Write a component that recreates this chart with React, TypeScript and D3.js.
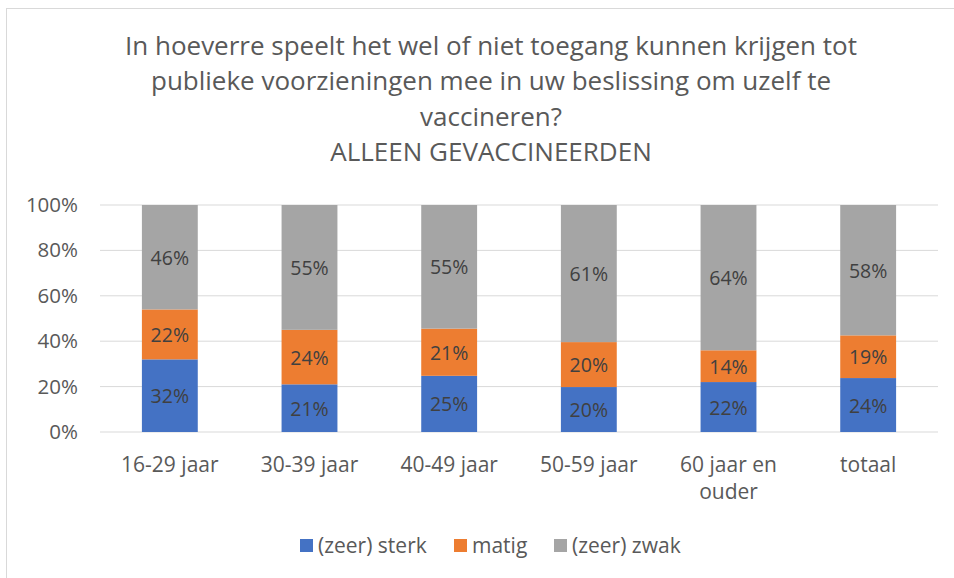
import React from "react";
import * as d3 from "d3";

const categories = ["16-29 jaar", "30-39 jaar", "40-49 jaar", "50-59 jaar", "60 jaar en ouder", "totaal"];
const sterk = [32, 21, 25, 20, 22, 24];
const matig = [22, 24, 21, 20, 14, 19];
const zwak = [46, 55, 55, 61, 64, 58];
const seriesNames = ["(zeer) sterk", "matig", "(zeer) zwak"];
const seriesColors = ["#4472C4", "#ED7D31", "#A5A5A5"];
const yTicks = [0, 0.2, 0.4, 0.6, 0.8, 1];
const titleLines = [
  "In hoeverre speelt het wel of niet toegang kunnen krijgen tot",
  "publieke voorzieningen mee in uw beslissing om uzelf te",
  "vaccineren?",
  "ALLEEN GEVACCINEERDEN",
];

const W = 954;
const H = 578;
const FONT = "'Open Sans', sans-serif";

export default function App() {
  const margin = { left: 100, right: 16, top: 205, bottom: 146 };
  const x = d3
    .scaleBand<string>()
    .domain(categories)
    .range([margin.left, W - margin.right])
    .paddingInner(0.6)
    .paddingOuter(0.3);
  const y = d3.scaleLinear().domain([0, 1]).range([H - margin.bottom, margin.top]);

  const rows = categories.map((c, i) => {
    const vals = [sterk[i], matig[i], zwak[i]];
    const total = d3.sum(vals);
    return { cat: c, vals, total };
  });
  const stack = d3
    .stack<{ cat: string; vals: number[]; total: number }, number>()
    .keys([0, 1, 2])
    .value((d, k) => d.vals[k] / d.total);
  const layers = stack(rows);

  const legendX = [300, 454, 554];

  return (
    <svg width={W} height={H} style={{ position: "absolute", left: 0, top: 0, background: "#fff" }} fontFamily={FONT}>
      <rect x={6.5} y={8.5} width={W} height={H} fill="#fff" stroke="#D9D9D9" strokeWidth={1} />
      {titleLines.map((t, i) => (
        <text key={i} x={491} y={55 + i * 35.3} textAnchor="middle" fontSize={26} fill="#595959">
          {t}
        </text>
      ))}
      {yTicks.map((t) => (
        <g key={t}>
          <line x1={margin.left} x2={W - margin.right} y1={y(t)} y2={y(t)} stroke="#D9D9D9" strokeWidth={1} />
          <text x={78} y={y(t) + 7} textAnchor="end" fontSize={20.5} fill="#595959">
            {d3.format(".0%")(t)}
          </text>
        </g>
      ))}
      {layers.map((layer, li) => (
        <g key={li}>
          {layer.map((d, i) => {
            const cat = categories[i];
            const x0 = x(cat)!;
            const y0 = y(d[1]);
            const h = y(d[0]) - y(d[1]);
            return (
              <g key={cat}>
                <rect x={x0} y={y0} width={x.bandwidth()} height={h} fill={seriesColors[li]} />
                <text
                  x={x0 + x.bandwidth() / 2}
                  y={y0 + h / 2 + 7.5}
                  textAnchor="middle"
                  fontSize={19.5}
                  fill="#404040"
                >
                  {rows[i].vals[li]}%
                </text>
              </g>
            );
          })}
        </g>
      ))}
      {categories.map((c) => {
        const cx = x(c)! + x.bandwidth() / 2;
        const lines = c === "60 jaar en ouder" ? ["60 jaar en", "ouder"] : [c];
        return (
          <text key={c} x={cx} textAnchor="middle" fontSize={21} fill="#595959">
            {lines.map((l, k) => (
              <tspan key={k} x={cx} y={471.5 + k * 27.5}>
                {l}
              </tspan>
            ))}
          </text>
        );
      })}
      {seriesNames.map((n, i) => (
        <g key={n}>
          <rect x={legendX[i]} y={539} width={13} height={13} fill={seriesColors[i]} />
          <text x={legendX[i] + 18} y={553} fontSize={21} fill="#595959">
            {n}
          </text>
        </g>
      ))}
    </svg>
  );
}
